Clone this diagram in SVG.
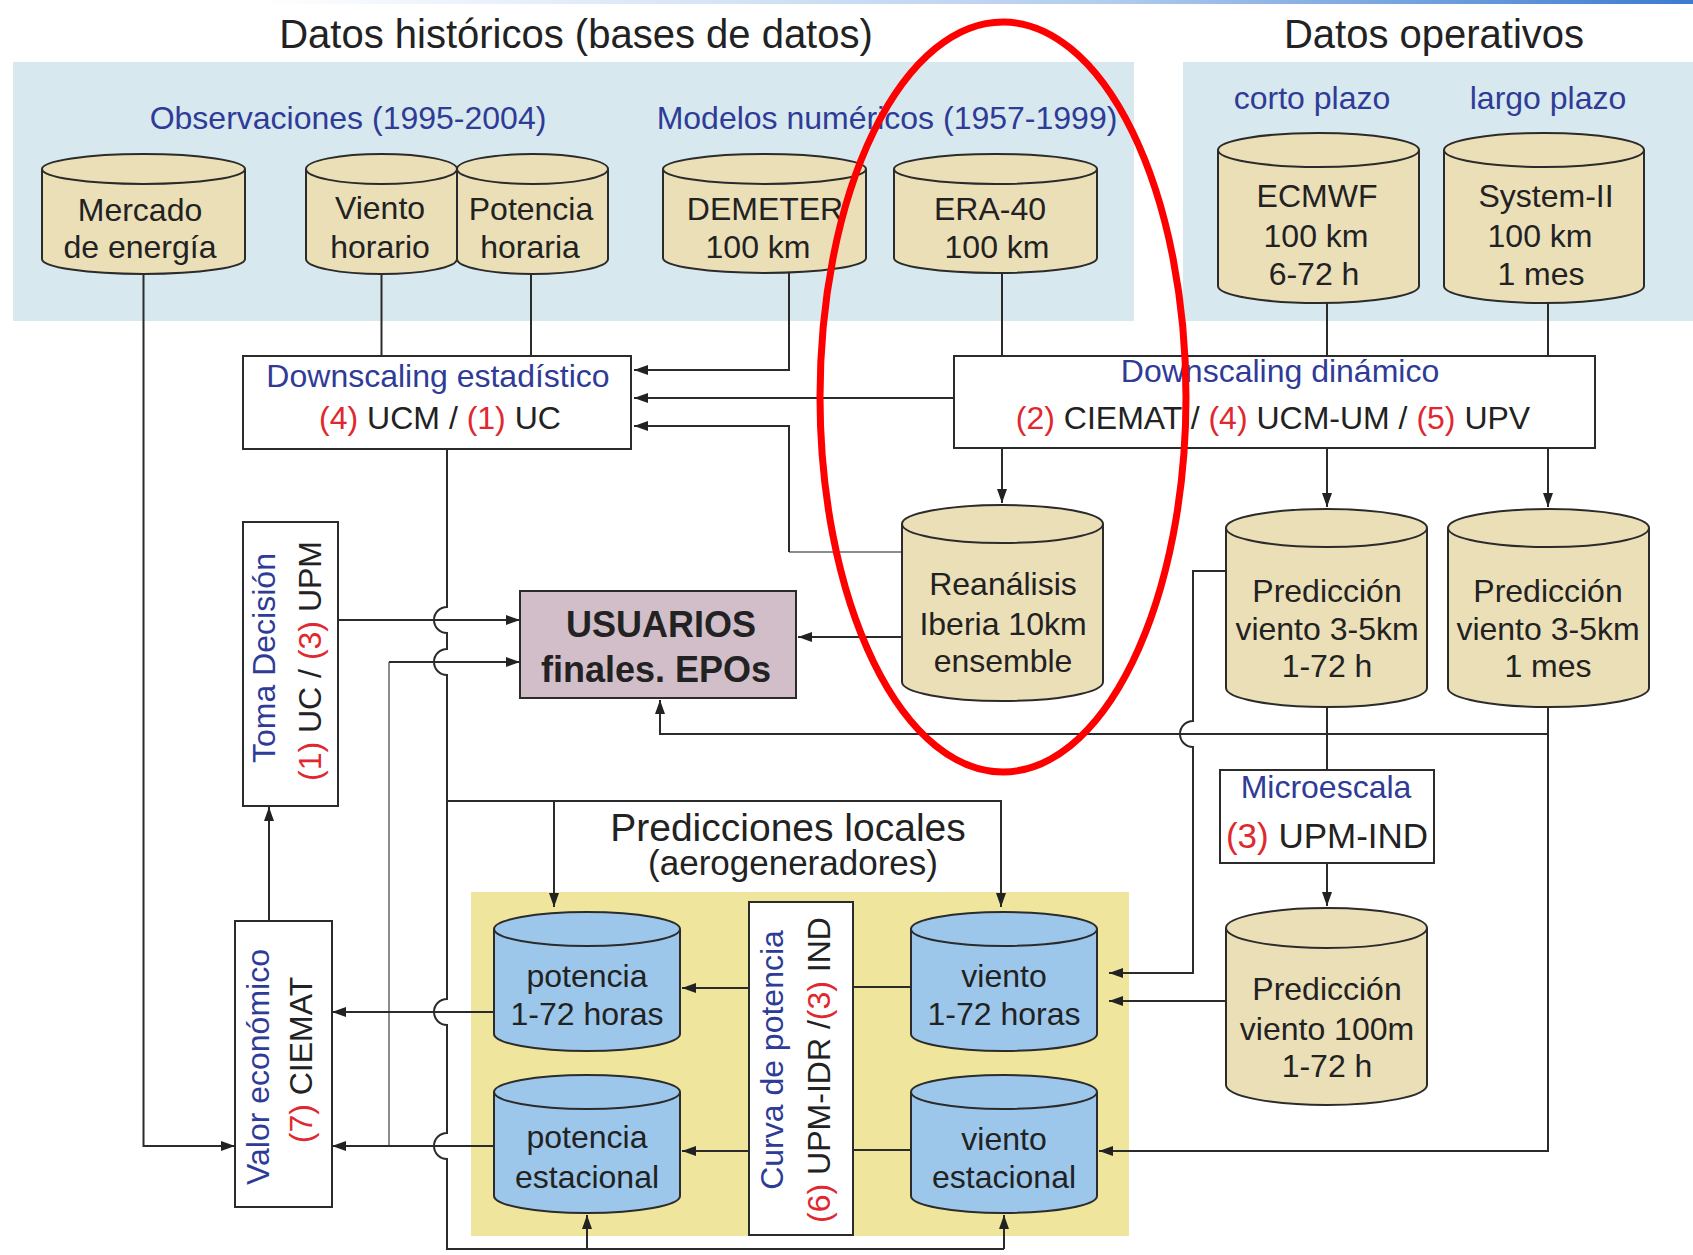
<svg xmlns="http://www.w3.org/2000/svg" width="1693" height="1255" viewBox="0 0 1693 1255">
<defs>
<linearGradient id="topbar" x1="0" y1="0" x2="1693" y2="0" gradientUnits="userSpaceOnUse">
<stop offset="0.15" stop-color="#ffffff"/>
<stop offset="0.65" stop-color="#b3cdee"/>
<stop offset="1" stop-color="#3b7bd0"/>
</linearGradient>
<marker id="ah" viewBox="0 0 14 10" refX="14" refY="5" markerWidth="14" markerHeight="10" markerUnits="userSpaceOnUse" orient="auto">
<path d="M0,0 L14,5 L0,10 z" fill="#222"/>
</marker>
<style>
.t{font-family:"Liberation Sans",Arial,sans-serif;font-size:32px;fill:#222;text-anchor:middle}
.ttl{font-size:40px}
.b{fill:#2e3b97}
.r{fill:#e0282e}
.tan{fill:#ebdfb8;stroke:#2b2b2b;stroke-width:2}
.blu{fill:#9cc7ea;stroke:#2b2b2b;stroke-width:2}
.box{fill:#ffffff;stroke:#2b2b2b;stroke-width:2}
.c{fill:none;stroke:#2b2b2b;stroke-width:2}
.g{fill:none;stroke:#8c8c8c;stroke-width:2}
.a{marker-end:url(#ah)}
</style>
</defs>
<rect x="0" y="0" width="1693" height="1255" fill="#ffffff"/>
<rect x="0" y="0" width="1693" height="4" fill="url(#topbar)"/>

<!-- panels -->
<rect x="13" y="62" width="1121" height="259" fill="#d8e8ef"/>
<rect x="1183" y="62" width="510" height="259" fill="#d8e8ef"/>
<rect x="471" y="892" width="658" height="344" fill="#efe59c"/>

<!-- headings -->
<text class="t ttl" x="576" y="48">Datos históricos (bases de datos)</text>
<text class="t ttl" x="1434" y="48">Datos operativos</text>
<text class="t b" x="348" y="129">Observaciones (1995-2004)</text>
<text class="t b" x="887" y="129">Modelos numéricos (1957-1999)</text>
<text class="t b" x="1312" y="109">corto plazo</text>
<text class="t b" x="1548" y="109">largo plazo</text>
<text class="t" x="788" y="841" style="font-size:39px">Predicciones locales</text>
<text class="t" x="793" y="875" style="font-size:35px">(aerogeneradores)</text>

<!-- connectors -->
<g id="connectors">
<path class="c a" d="M143.5,274 V1146 H235"/>
<path class="c" d="M381.5,274 V355"/>
<path class="c" d="M531,274 V355"/>
<path class="c a" d="M789,273 V370 H634"/>
<path class="c" d="M1002,273 V355"/>
<path class="c" d="M1327,303 V355"/>
<path class="c" d="M1548,303 V355"/>
<path class="c a" d="M954,398 H634"/>
<path class="g" d="M902,552 H789"/>
<path class="c a" d="M789,552 V426 H634"/>
<path class="c a" d="M1002,448 V503"/>
<path class="c a" d="M1327,448 V507"/>
<path class="c a" d="M1548,448 V507"/>
<path class="c a" d="M902,637 H798"/>
<path class="c a" d="M338,620 H520"/>
<path class="g" d="M389,1146 V662"/>
<path class="c a" d="M389,662 H520"/>
<path class="c" d="M447,449 V607 A13,13 0 0 0 447,633 V649 A13,13 0 0 0 447,675 V999 A13,13 0 0 0 447,1025 V1133 A13,13 0 0 0 447,1159 V1249 H1004"/>
<path class="c a" d="M447,801 H1001 V907"/>
<path class="c a" d="M554,801 V907"/>
<path class="c a" d="M587,1249 V1215"/>
<path class="c a" d="M1004,1249 V1215"/>
<path class="c a" d="M494,1012 H332"/>
<path class="c a" d="M494,1146 H332"/>
<path class="c a" d="M269,921 V807"/>
<path class="c" d="M911,987 H853"/>
<path class="c a" d="M749,988 H682"/>
<path class="c" d="M911,1150 H853"/>
<path class="c a" d="M749,1151 H682"/>
<path class="c" d="M1327,707 V770"/>
<path class="c a" d="M1327,863 V906"/>
<path class="c a" d="M1548,707 V1151 H1099"/>
<path class="c a" d="M1548,734 H660 V700"/>
<path class="c a" d="M1226,571 H1193 V721 A13,13 0 0 0 1193,747 V973 H1109"/>
<path class="c a" d="M1226,1001 H1109"/>
</g>

<!-- cylinders -->
<g id="mercado">
<path class="tan" d="M42,169 V259 A101.5,15 0 0 0 245,259 V169"/>
<ellipse class="tan" cx="143.5" cy="169" rx="101.5" ry="15"/>
<text class="t" x="140" y="221">Mercado</text>
<text class="t" x="140" y="258">de energía</text>
</g>
<g id="viento-horario">
<path class="tan" d="M306,169 V259 A75.5,15 0 0 0 457,259 V169"/>
<ellipse class="tan" cx="381.5" cy="169" rx="75.5" ry="15"/>
<text class="t" x="380" y="219">Viento</text>
<text class="t" x="380" y="258">horario</text>
</g>
<g id="potencia-horaria">
<path class="tan" d="M457,169 V259 A75.5,15 0 0 0 608,259 V169"/>
<ellipse class="tan" cx="532.5" cy="169" rx="75.5" ry="15"/>
<text class="t" x="531" y="220">Potencia</text>
<text class="t" x="530" y="258">horaria</text>
</g>
<g id="demeter">
<path class="tan" d="M663,169 V258 A101.5,15 0 0 0 866,258 V169"/>
<ellipse class="tan" cx="764.5" cy="169" rx="101.5" ry="15"/>
<text class="t" x="765" y="220">DEMETER</text>
<text class="t" x="758" y="258">100 km</text>
</g>
<g id="era40">
<path class="tan" d="M894,169 V258 A101.5,15 0 0 0 1097,258 V169"/>
<ellipse class="tan" cx="995.5" cy="169" rx="101.5" ry="15"/>
<text class="t" x="990" y="220">ERA-40</text>
<text class="t" x="997" y="258">100 km</text>
</g>
<g id="ecmwf">
<path class="tan" d="M1218,150 V286 A100.5,17 0 0 0 1419,286 V150"/>
<ellipse class="tan" cx="1318.5" cy="150" rx="100.5" ry="17"/>
<text class="t" x="1317" y="207">ECMWF</text>
<text class="t" x="1316" y="247">100 km</text>
<text class="t" x="1314" y="285">6-72 h</text>
</g>
<g id="system-ii">
<path class="tan" d="M1444,150 V286 A100,17 0 0 0 1644,286 V150"/>
<ellipse class="tan" cx="1544" cy="150" rx="100" ry="17"/>
<text class="t" x="1546" y="207">System-II</text>
<text class="t" x="1540" y="247">100 km</text>
<text class="t" x="1541" y="285">1 mes</text>
</g>
<g id="reanalisis">
<path class="tan" d="M902,524 V682 A100.5,19 0 0 0 1103,682 V524"/>
<ellipse class="tan" cx="1002.5" cy="524" rx="100.5" ry="19"/>
<text class="t" x="1003" y="595">Reanálisis</text>
<text class="t" x="1003" y="635">Iberia 10km</text>
<text class="t" x="1003" y="672">ensemble</text>
</g>
<g id="pred-172">
<path class="tan" d="M1226,528 V688 A100.5,19 0 0 0 1427,688 V528"/>
<ellipse class="tan" cx="1326.5" cy="528" rx="100.5" ry="19"/>
<text class="t" x="1327" y="602">Predicción</text>
<text class="t" x="1327" y="640">viento 3-5km</text>
<text class="t" x="1327" y="677">1-72 h</text>
</g>
<g id="pred-1mes">
<path class="tan" d="M1448,528 V688 A100.5,19 0 0 0 1649,688 V528"/>
<ellipse class="tan" cx="1548.5" cy="528" rx="100.5" ry="19"/>
<text class="t" x="1548" y="602">Predicción</text>
<text class="t" x="1548" y="640">viento 3-5km</text>
<text class="t" x="1548" y="677">1 mes</text>
</g>
<g id="pred-100m">
<path class="tan" d="M1226,928 V1085 A100.5,20 0 0 0 1427,1085 V928"/>
<ellipse class="tan" cx="1326.5" cy="928" rx="100.5" ry="20"/>
<text class="t" x="1327" y="1000">Predicción</text>
<text class="t" x="1327" y="1040">viento 100m</text>
<text class="t" x="1327" y="1077">1-72 h</text>
</g>
<g id="potencia-172">
<path class="blu" d="M494,929 V1034 A93,17 0 0 0 680,1034 V929"/>
<ellipse class="blu" cx="587" cy="929" rx="93" ry="17"/>
<text class="t" x="587" y="987">potencia</text>
<text class="t" x="587" y="1025">1-72 horas</text>
</g>
<g id="viento-172">
<path class="blu" d="M911,929 V1034 A93,17 0 0 0 1097,1034 V929"/>
<ellipse class="blu" cx="1004" cy="929" rx="93" ry="17"/>
<text class="t" x="1004" y="987">viento</text>
<text class="t" x="1004" y="1025">1-72 horas</text>
</g>
<g id="potencia-estacional">
<path class="blu" d="M494,1092 V1196 A93,17 0 0 0 680,1196 V1092"/>
<ellipse class="blu" cx="587" cy="1092" rx="93" ry="17"/>
<text class="t" x="587" y="1148">potencia</text>
<text class="t" x="587" y="1188">estacional</text>
</g>
<g id="viento-estacional">
<path class="blu" d="M911,1092 V1196 A93,17 0 0 0 1097,1196 V1092"/>
<ellipse class="blu" cx="1004" cy="1092" rx="93" ry="17"/>
<text class="t" x="1004" y="1150">viento</text>
<text class="t" x="1004" y="1188">estacional</text>
</g>

<!-- boxes -->
<g id="downscaling-estadistico">
<rect class="box" x="243" y="356" width="388" height="93"/>
<text class="t b" x="438" y="387">Downscaling estadístico</text>
<text class="t" x="440" y="429"><tspan class="r">(4)</tspan> UCM / <tspan class="r">(1)</tspan> UC</text>
</g>
<g id="downscaling-dinamico">
<rect class="box" x="954" y="356" width="641" height="92"/>
<text class="t b" x="1280" y="382">Downscaling dinámico</text>
<text class="t" x="1273" y="429"><tspan class="r">(2)</tspan> CIEMAT / <tspan class="r">(4)</tspan> UCM-UM / <tspan class="r">(5)</tspan> UPV</text>
</g>
<g id="toma-decision">
<rect class="box" x="243" y="522" width="95" height="284"/>
<text class="t b" transform="translate(275,658) rotate(-90)">Toma Decisión</text>
<text class="t" transform="translate(321,661) rotate(-90)"><tspan class="r">(1)</tspan> UC / <tspan class="r">(3)</tspan> UPM</text>
</g>
<g id="usuarios">
<rect x="520" y="591" width="276" height="107" fill="#d2bec9" stroke="#2b2b2b" stroke-width="2"/>
<text class="t" x="661" y="637" style="font-size:36px;font-weight:bold">USUARIOS</text>
<text class="t" x="656" y="682" style="font-size:36px;font-weight:bold">finales. EPOs</text>
</g>
<g id="microescala">
<rect class="box" x="1220" y="770" width="214" height="93"/>
<text class="t b" x="1326" y="798">Microescala</text>
<text class="t" x="1327" y="848" style="font-size:35px"><tspan class="r">(3)</tspan> UPM-IND</text>
</g>
<g id="valor-economico">
<rect class="box" x="235" y="921" width="97" height="286"/>
<text class="t b" transform="translate(269,1067) rotate(-90)">Valor económico</text>
<text class="t" transform="translate(312,1060) rotate(-90)"><tspan class="r">(7)</tspan> CIEMAT</text>
</g>
<g id="curva-potencia">
<rect class="box" x="749" y="902" width="104" height="333"/>
<text class="t b" transform="translate(783,1060) rotate(-90)">Curva de potencia</text>
<text class="t" transform="translate(830,1070) rotate(-90)"><tspan class="r">(6)</tspan> UPM-IDR /<tspan class="r">(3)</tspan> IND</text>
</g>

<!-- highlight -->
<ellipse id="highlight" cx="1003" cy="397" rx="183" ry="375" fill="none" stroke="#ff0000" stroke-width="7"/>
</svg>
